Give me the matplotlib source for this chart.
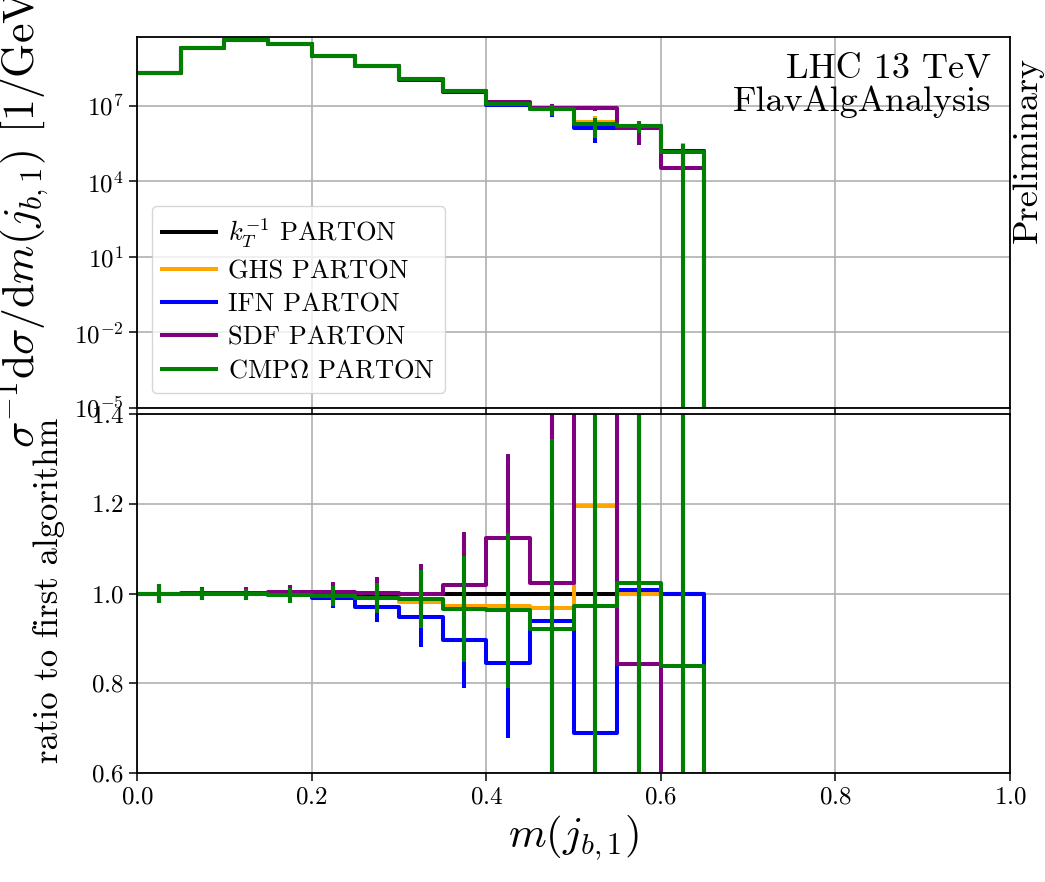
import numpy as np
import matplotlib
matplotlib.use("Agg")
import matplotlib.pyplot as plt

plt.rcParams['font.family'] = 'serif'
plt.rcParams['font.serif'] = ['cmr10']
plt.rcParams['mathtext.fontset'] = 'cm'
plt.rcParams['axes.formatter.use_mathtext'] = True

# binning in m(j_b,1)
bin_edges = [0.0, 0.05, 0.10, 0.15, 0.20, 0.25, 0.30, 0.35, 0.40, 0.45, 0.50, 0.55, 0.60, 0.65]

labels = [r"$k_T^{-1}$ PARTON", "GHS PARTON", "IFN PARTON", "SDF PARTON", r"CMP$\Omega$ PARTON"]
colors = ["black", "orange", "blue", "purple", "green"]

# normalised distributions
kt_vals = [1.95e8, 2.1e9, 4.1e9, 2.8e9, 9.8e8, 3.9e8, 1.15e8, 4.0e7, 1.3e7, 8.0e6, 2.0e6, 1.6e6, 1.7e5]
ghs_vals = [1.95e8, 2.1e9, 4.1e9, 2.797e9, 9.78e8, 3.861e8, 1.128e8, 3.892e7, 1.265e7, 7.736e6, 2.392e6, 1.6e6, 1.7e5]
ifn_vals = [1.95e8, 2.098e9, 4.092e9, 2.792e9, 9.692e8, 3.783e8, 1.089e8, 3.584e7, 1.100e7, 7.504e6, 1.38e6, 1.611e6, 1.7e5]
sdf_vals = [1.95e8, 2.102e9, 4.108e9, 2.808e9, 9.839e8, 3.908e8, 1.15e8, 4.072e7, 1.461e7, 8.184e6, 8.0e6, 1.347e6, 3.32e4]
cmp_vals = [1.95e8, 2.098e9, 4.092e9, 2.789e9, 9.751e8, 3.861e8, 1.136e8, 3.864e7, 1.251e7, 7.368e6, 1.946e6, 1.637e6, 1.425e5]

# relative stat. uncertainties per bin
kt_err = [0.022, 0.013, 0.012, 0.016, 0.021, 0.033, 0.064, 0.12, 0.17, 0.45, 0.7, 0.5, 0.9]
ghs_err = [0.022, 0.013, 0.012, 0.016, 0.021, 0.033, 0.065, 0.12, 0.17, 0.46, 0.7, 0.5, 0.9]
ifn_err = [0.022, 0.013, 0.012, 0.017, 0.022, 0.035, 0.07, 0.12, 0.2, 0.5, 0.75, 0.5, 0.85]
sdf_err = [0.022, 0.013, 0.012, 0.017, 0.022, 0.034, 0.065, 0.116, 0.166, 0.5, 0.2, 0.79, 1.0]
cmp_err = [0.022, 0.013, 0.012, 0.017, 0.022, 0.034, 0.065, 0.122, 0.18, 0.46, 0.72, 0.5, 1.1]

all_vals = [kt_vals, ghs_vals, ifn_vals, sdf_vals, cmp_vals]
all_err = [kt_err, ghs_err, ifn_err, sdf_err, cmp_err]

edges = np.array(bin_edges)
centers = 0.5 * (edges[1:] + edges[:-1])
ref = np.array(kt_vals)

W, H = 1045, 882
fig = plt.figure(figsize=(W / 100, H / 100), dpi=100)
ax = fig.add_axes([137 / W, (H - 408) / H, 873 / W, (408 - 37) / H])
rax = fig.add_axes([137 / W, (H - 773) / H, 873 / W, (773 - 414) / H], sharex=ax)

lw = 2.9
for vals, err, col, lab in zip(all_vals, all_err, colors, labels):
    v = np.array(vals)
    e = np.array(err)
    # step histogram, dropping to zero after last bin
    ax.plot(edges, np.append(v, 0.0), drawstyle='steps-post', color=col, lw=lw, label=lab)
    ax.errorbar(centers, v, yerr=v * e, fmt='none', ecolor=col, elinewidth=lw, capsize=0)
    r = v / ref
    rax.plot(edges, np.append(r, 0.0), drawstyle='steps-post', color=col, lw=lw)
    rax.errorbar(centers, r, yerr=r * e, fmt='none', ecolor=col, elinewidth=lw, capsize=0)

ax.set_yscale('log')
ax.set_ylim(1e-5, 10 ** 9.74)
ax.set_yticks([1e-5, 1e-2, 1e1, 1e4, 1e7])
ax.yaxis.set_minor_locator(matplotlib.ticker.NullLocator())
ax.set_xlim(0, 1)
ax.tick_params(labelbottom=False)
ax.grid(True, color='#b0b0b0', lw=1.2)
ax.set_ylabel(r"$\sigma^{-1}\mathrm{d}\sigma/\mathrm{d}m(j_{b,1})$ [1/GeV]", fontsize=31.5)
ax.yaxis.set_label_coords(-0.098, 0.52)

rax.set_ylim(0.6, 1.4)
rax.set_yticks([0.6, 0.8, 1.0, 1.2, 1.4])
rax.set_xticks([0.0, 0.2, 0.4, 0.6, 0.8, 1.0])
rax.grid(True, color='#b0b0b0', lw=1.2)
rax.set_ylabel("ratio to first algorithm", fontsize=25)
rax.yaxis.set_label_coords(-0.082, 0.51)
rax.set_xlabel(r"$m(j_{b,1})$", fontsize=31)

for a in (ax, rax):
    a.tick_params(labelsize=18, length=6, width=1.1)
    for s in a.spines.values():
        s.set_linewidth(1.3)

ax.legend(loc='lower left', fontsize=19, handlelength=2.05, handletextpad=0.45,
          labelspacing=0.36, borderaxespad=0.55)

fig.text(991 / W, 1 - 78 / H, "LHC 13 TeV", ha='right', va='baseline', fontsize=26)
fig.text(991 / W, 1 - 111 / H, "FlavAlgAnalysis", ha='right', va='baseline', fontsize=26)
fig.text(1037 / W, 1 - 57 / H, "Preliminary", rotation=90, rotation_mode='anchor',
         ha='right', va='baseline', fontsize=26)

fig.savefig("out.png", dpi=100)
